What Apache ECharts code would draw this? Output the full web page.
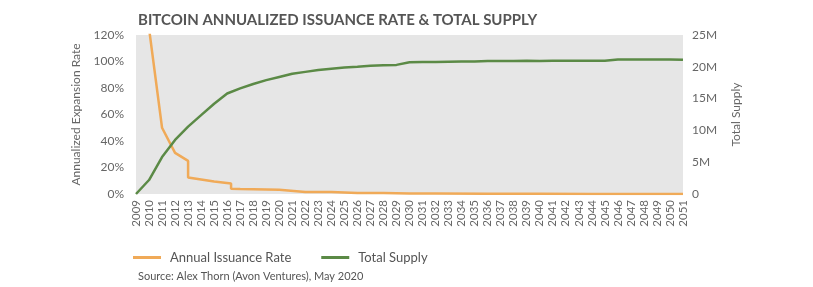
<!DOCTYPE html>
<html>
<head>
<meta charset="utf-8">
<script src="https://cdn.jsdelivr.net/npm/echarts@6/dist/echarts.min.js"></script>
<style>
  html, body { margin: 0; padding: 0; background: #fff; }
  #chart { width: 813px; height: 287px; }
</style>
</head>
<body>
<div id="chart"></div>
<script>
// issuance rate (%), repeated years are the halving steps
const rateYears = [2010, 2011, 2012, 2013, 2013, 2014, 2015, 2016.3, 2016.3, 2017, 2018, 2019, 2020, 2020,
  2022, 2024, 2024, 2026, 2028, 2028, 2030, 2032, 2032, 2036, 2036, 2040, 2044, 2048, 2051];
const rateValues = [125, 50, 31, 25, 12.5, 11, 9.5, 8, 4, 3.8, 3.6, 3.4, 3.2, 1.7,
  1.6, 1.55, 0.8, 0.78, 0.75, 0.4, 0.39, 0.38, 0.2, 0.19, 0.1, 0.1, 0.05, 0.05, 0.03];

// total supply (millions of BTC), one per year 2009..2051
const supplyYears = [];
for (let y = 2009; y <= 2051; y++) supplyYears.push(y);
const supplyValues = [0, 2.2, 5.8, 8.5, 10.6, 12.4, 14.2, 15.8, 16.6, 17.3, 17.9,
  18.4, 18.9, 19.2, 19.5, 19.7, 19.9, 20.0, 20.15, 20.25, 20.3,
  20.7, 20.75, 20.75, 20.8, 20.85, 20.85, 20.9, 20.9, 20.9, 20.95,
  20.9, 20.95, 20.95, 20.95, 20.95, 20.95, 21.15, 21.15, 21.15, 21.15, 21.15, 21.1];

const rateTicks = [0, 20, 40, 60, 80, 100, 120];
const supplyTicks = ['0', '5M', '10M', '15M', '20M', '25M'];

const txt = '#666';
const font = 'Lato, "Open Sans", sans-serif';

const chart = echarts.init(document.getElementById('chart'));
chart.setOption({
  animation: false,
  textStyle: { fontFamily: font },
  title: [
    {
      text: 'BITCOIN ANNUALIZED ISSUANCE RATE & TOTAL SUPPLY',
      left: 133, top: 8,
      textStyle: { fontSize: 15, fontWeight: 'bold', color: '#555', fontFamily: font }
    },
    {
      text: 'Source: Alex Thorn (Avon Ventures), May 2020',
      left: 133, top: 266,
      textStyle: { fontSize: 11, fontWeight: 'normal', color: '#555', fontFamily: font }
    }
  ],
  legend: {
    left: 128, top: 246,
    icon: 'rect',
    itemWidth: 28, itemHeight: 3, itemGap: 30,
    textStyle: { fontSize: 13, color: '#555', padding: [0, 0, 0, 4] },
    data: ['Annual Issuance Rate', 'Total Supply']
  },
  grid: {
    left: 136, right: 130, top: 35, bottom: 93,
    show: true, backgroundColor: '#e6e6e6', borderWidth: 0
  },
  xAxis: {
    type: 'value',
    min: 2009, max: 2051, interval: 1,
    axisLine: { show: false }, axisTick: { show: false }, splitLine: { show: false },
    axisLabel: { rotate: 90, fontSize: 11.5, color: txt, margin: 6, formatter: v => String(v) }
  },
  yAxis: [
    {
      type: 'value', min: 0, max: 120, interval: 20,
      name: 'Annualized Expansion Rate', nameLocation: 'middle', nameGap: 54, nameRotate: 90,
      nameTextStyle: { fontSize: 12, color: txt },
      axisLine: { show: false }, axisTick: { show: false }, splitLine: { show: false },
      axisLabel: { fontSize: 12, color: txt, margin: 12,
        formatter: v => rateTicks.indexOf(v) >= 0 ? v + '%' : '' }
    },
    {
      type: 'value', min: 0, max: 25, interval: 5, position: 'right',
      name: 'Total Supply', nameLocation: 'middle', nameGap: 47, nameRotate: 90,
      nameTextStyle: { fontSize: 12, color: txt },
      axisLine: { show: false }, axisTick: { show: false }, splitLine: { show: false },
      axisLabel: { fontSize: 12, color: txt, margin: 9,
        formatter: v => supplyTicks[v / 5] }
    }
  ],
  series: [
    {
      name: 'Annual Issuance Rate', type: 'line', yAxisIndex: 0,
      showSymbol: false, clip: true,
      lineStyle: { width: 2.5, color: '#f0aa58' },
      itemStyle: { color: '#f0aa58' },
      data: rateYears.map((y, i) => [y, rateValues[i]])
    },
    {
      name: 'Total Supply', type: 'line', yAxisIndex: 1,
      showSymbol: false,
      lineStyle: { width: 2.5, color: '#5b8a46' },
      itemStyle: { color: '#5b8a46' },
      data: supplyYears.map((y, i) => [y, supplyValues[i]])
    }
  ]
});
</script>
</body>
</html>
